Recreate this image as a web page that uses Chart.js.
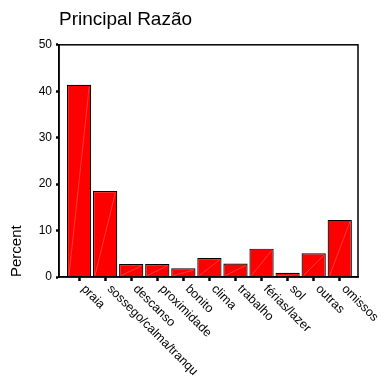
<!DOCTYPE html>
<html>
<head>
<meta charset="utf-8">
<script src="https://cdn.jsdelivr.net/npm/chart.js@4.4.1/dist/chart.umd.min.js"></script>
<style>
  html, body { margin: 0; padding: 0; background: #fff; }
  #wrap { width: 381px; height: 383px; }
</style>
</head>
<body>
<div id="wrap"><canvas id="chart"></canvas></div>
<script>
const categories = [
  "praia", "sossego/calma/tranqu", "descanso", "proximidade", "bonito",
  "clima", "trabalho", "férias/lazer", "sol", "outras", "omissos"
];
const percents = [41.4, 18.5, 2.8, 2.8, 1.9, 4.1, 2.9, 6.1, 0.9, 5.1, 12.3];
const yTicks = [0, 10, 20, 30, 40, 50];

const FONT = "'Liberation Sans', Arial, sans-serif";

// box around the plot area
const framePlugin = {
  id: "frame",
  afterDraw(chart) {
    const { ctx, chartArea: a } = chart;
    ctx.save();
    ctx.strokeStyle = "#000";
    ctx.lineWidth = 1.5;
    ctx.strokeRect(a.left, a.top, a.right - a.left, a.bottom - a.top);
    ctx.restore();
  }
};

// faint diagonal streak inside each bar
const streakPlugin = {
  id: "streak",
  afterDatasetsDraw(chart) {
    const { ctx } = chart;
    ctx.save();
    ctx.strokeStyle = "rgba(255,170,170,0.5)";
    ctx.lineWidth = 0.7;
    chart.getDatasetMeta(0).data.forEach(bar => {
      const p = bar.getProps(["x", "y", "base", "width"], true);
      ctx.beginPath();
      ctx.moveTo(p.x - p.width / 2 + 2, p.base - 1);
      ctx.lineTo(p.x + p.width / 2 - 2, p.y + 2);
      ctx.stroke();
    });
    ctx.restore();
  }
};

// slanted category names under the x axis
const xLabelPlugin = {
  id: "xLabels",
  afterDraw(chart) {
    const { ctx } = chart;
    const xs = chart.scales.x;
    ctx.save();
    ctx.font = "12.5px " + FONT;
    ctx.fillStyle = "#000";
    ctx.textAlign = "left";
    ctx.textBaseline = "middle";
    categories.forEach((name, i) => {
      const x = xs.getPixelForValue(i);
      ctx.save();
      ctx.translate(x + 4, xs.top + 10);
      ctx.rotate(Math.PI / 4);
      ctx.fillText(name, 0, 0);
      ctx.restore();
    });
    ctx.restore();
  }
};

const ctx = document.getElementById("chart").getContext("2d");
new Chart(ctx, {
  type: "bar",
  data: {
    datasets: [{
      label: "Percent",
      data: percents.map((v, i) => ({ x: i, y: v })),
      backgroundColor: "#ff0000",
      borderColor: "#000",
      borderWidth: 1.2,
      barPercentage: 0.93,
      categoryPercentage: 1
    }]
  },
  options: {
    responsive: true,
    maintainAspectRatio: false,
    animation: false,
    layout: { padding: { top: 0, right: 23, bottom: 102, left: 0 } },
    plugins: {
      legend: { display: false },
      tooltip: { enabled: false },
      title: {
        display: true,
        text: "Principal Razão",
        align: "start",
        fullSize: false,
        color: "#000",
        font: { family: FONT, size: 19, weight: "normal", lineHeight: 1.2 },
        padding: { top: 8, bottom: 14 }
      }
    },
    scales: {
      x: {
        type: "linear",
        offset: false,
        min: -0.77,
        max: 10.7,
        afterBuildTicks: axis => { axis.ticks = categories.map((_, i) => ({ value: i })); },
        ticks: { display: false },
        grid: { offset: false, drawOnChartArea: false, tickLength: 4, tickWidth: 2.5, tickColor: "#000" },
        border: { color: "#000", width: 1.5 }
      },
      y: {
        min: 0,
        max: 50,
        afterBuildTicks: axis => { axis.ticks = yTicks.map(v => ({ value: v })); },
        afterFit: axis => { axis.width = 59; },
        ticks: { color: "#000", padding: 4, font: { family: FONT, size: 12 } },
        grid: { drawOnChartArea: false, tickLength: 3, tickWidth: 2.5, tickColor: "#000" },
        border: { color: "#000", width: 1.5 },
        title: {
          display: true,
          text: "Percent",
          align: "start",
          color: "#000",
          font: { family: FONT, size: 15 },
          padding: { top: 8, bottom: 0 }
        }
      }
    }
  },
  plugins: [framePlugin, streakPlugin, xLabelPlugin]
});
</script>
</body>
</html>
